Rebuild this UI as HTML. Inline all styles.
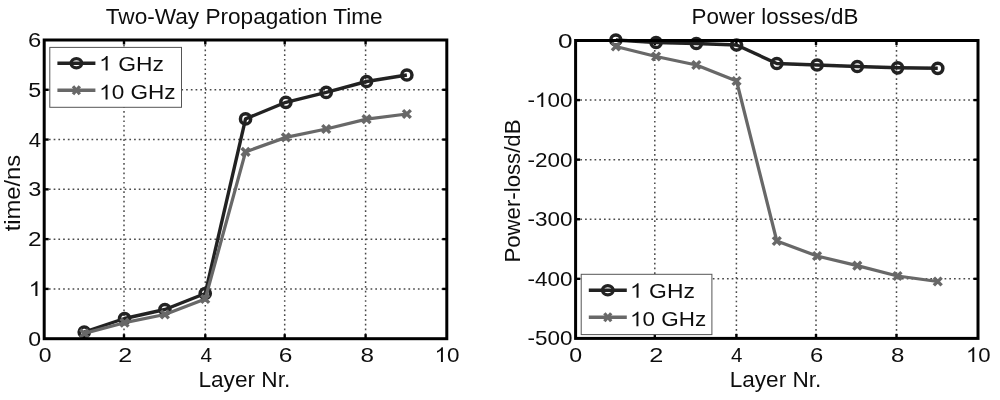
<!DOCTYPE html><html><head><meta charset="utf-8"><style>html,body{margin:0;padding:0;background:#fff}svg{display:block}text{font-family:"Liberation Sans",sans-serif;fill:#111;stroke:#111;stroke-width:0px}</style></head><body>
<svg width="1000" height="400" viewBox="0 0 1000 400">
<defs><filter id="b" x="-2%" y="-2%" width="104%" height="104%"><feGaussianBlur stdDeviation="0.6"/></filter></defs>
<rect width="1000" height="400" fill="#fff"/>
<g filter="url(#b)">
<line x1="124.00" y1="40.0" x2="124.00" y2="338.7" stroke="#4a4a4a" stroke-width="1.5" stroke-dasharray="1.7 3.03"/>
<line x1="205.30" y1="40.0" x2="205.30" y2="338.7" stroke="#4a4a4a" stroke-width="1.5" stroke-dasharray="1.7 3.03"/>
<line x1="284.70" y1="40.0" x2="284.70" y2="338.7" stroke="#4a4a4a" stroke-width="1.5" stroke-dasharray="1.7 3.03"/>
<line x1="365.60" y1="40.0" x2="365.60" y2="338.7" stroke="#4a4a4a" stroke-width="1.5" stroke-dasharray="1.7 3.03"/>
<line x1="44.2" y1="288.92" x2="446.8" y2="288.92" stroke="#4a4a4a" stroke-width="1.5" stroke-dasharray="1.7 3.03"/>
<line x1="44.2" y1="239.13" x2="446.8" y2="239.13" stroke="#4a4a4a" stroke-width="1.5" stroke-dasharray="1.7 3.03"/>
<line x1="44.2" y1="189.35" x2="446.8" y2="189.35" stroke="#4a4a4a" stroke-width="1.5" stroke-dasharray="1.7 3.03"/>
<line x1="44.2" y1="139.57" x2="446.8" y2="139.57" stroke="#4a4a4a" stroke-width="1.5" stroke-dasharray="1.7 3.03"/>
<line x1="44.2" y1="89.78" x2="446.8" y2="89.78" stroke="#4a4a4a" stroke-width="1.5" stroke-dasharray="1.7 3.03"/>
<line x1="124.00" y1="40.0" x2="124.00" y2="44.5" stroke="#000" stroke-width="2.4"/>
<line x1="124.00" y1="338.7" x2="124.00" y2="334.2" stroke="#000" stroke-width="2.4"/>
<line x1="205.30" y1="40.0" x2="205.30" y2="44.5" stroke="#000" stroke-width="2.4"/>
<line x1="205.30" y1="338.7" x2="205.30" y2="334.2" stroke="#000" stroke-width="2.4"/>
<line x1="284.70" y1="40.0" x2="284.70" y2="44.5" stroke="#000" stroke-width="2.4"/>
<line x1="284.70" y1="338.7" x2="284.70" y2="334.2" stroke="#000" stroke-width="2.4"/>
<line x1="365.60" y1="40.0" x2="365.60" y2="44.5" stroke="#000" stroke-width="2.4"/>
<line x1="365.60" y1="338.7" x2="365.60" y2="334.2" stroke="#000" stroke-width="2.4"/>
<line x1="44.2" y1="288.92" x2="48.7" y2="288.92" stroke="#000" stroke-width="2.4"/>
<line x1="446.8" y1="288.92" x2="442.3" y2="288.92" stroke="#000" stroke-width="2.4"/>
<line x1="44.2" y1="239.13" x2="48.7" y2="239.13" stroke="#000" stroke-width="2.4"/>
<line x1="446.8" y1="239.13" x2="442.3" y2="239.13" stroke="#000" stroke-width="2.4"/>
<line x1="44.2" y1="189.35" x2="48.7" y2="189.35" stroke="#000" stroke-width="2.4"/>
<line x1="446.8" y1="189.35" x2="442.3" y2="189.35" stroke="#000" stroke-width="2.4"/>
<line x1="44.2" y1="139.57" x2="48.7" y2="139.57" stroke="#000" stroke-width="2.4"/>
<line x1="446.8" y1="139.57" x2="442.3" y2="139.57" stroke="#000" stroke-width="2.4"/>
<line x1="44.2" y1="89.78" x2="48.7" y2="89.78" stroke="#000" stroke-width="2.4"/>
<line x1="446.8" y1="89.78" x2="442.3" y2="89.78" stroke="#000" stroke-width="2.4"/>
<polyline points="84.23,332.00 124.56,318.50 164.89,309.50 205.22,293.50 245.55,118.90 285.88,102.30 326.21,92.40 366.54,81.50 406.87,75.00" fill="none" stroke="#222" stroke-width="3.4" stroke-linejoin="round"/>
<circle cx="84.23" cy="332.00" r="5.1" fill="none" stroke="#222" stroke-width="3.5"/>
<circle cx="124.56" cy="318.50" r="5.1" fill="none" stroke="#222" stroke-width="3.5"/>
<circle cx="164.89" cy="309.50" r="5.1" fill="none" stroke="#222" stroke-width="3.5"/>
<circle cx="205.22" cy="293.50" r="5.1" fill="none" stroke="#222" stroke-width="3.5"/>
<circle cx="245.55" cy="118.90" r="5.1" fill="none" stroke="#222" stroke-width="3.5"/>
<circle cx="285.88" cy="102.30" r="5.1" fill="none" stroke="#222" stroke-width="3.5"/>
<circle cx="326.21" cy="92.40" r="5.1" fill="none" stroke="#222" stroke-width="3.5"/>
<circle cx="366.54" cy="81.50" r="5.1" fill="none" stroke="#222" stroke-width="3.5"/>
<circle cx="406.87" cy="75.00" r="5.1" fill="none" stroke="#222" stroke-width="3.5"/>
<polyline points="84.23,333.40 124.56,322.70 164.89,314.50 205.22,299.00 245.55,151.90 285.88,137.40 326.21,129.00 366.54,119.20 406.87,114.00" fill="none" stroke="#686868" stroke-width="3.25" stroke-linejoin="round"/>
<path d="M80.33 329.50L88.13 337.30M80.33 337.30L88.13 329.50" stroke="#686868" stroke-width="3.4" fill="none"/>
<path d="M120.66 318.80L128.46 326.60M120.66 326.60L128.46 318.80" stroke="#686868" stroke-width="3.4" fill="none"/>
<path d="M160.99 310.60L168.79 318.40M160.99 318.40L168.79 310.60" stroke="#686868" stroke-width="3.4" fill="none"/>
<path d="M201.32 295.10L209.12 302.90M201.32 302.90L209.12 295.10" stroke="#686868" stroke-width="3.4" fill="none"/>
<path d="M241.65 148.00L249.45 155.80M241.65 155.80L249.45 148.00" stroke="#686868" stroke-width="3.4" fill="none"/>
<path d="M281.98 133.50L289.78 141.30M281.98 141.30L289.78 133.50" stroke="#686868" stroke-width="3.4" fill="none"/>
<path d="M322.31 125.10L330.11 132.90M322.31 132.90L330.11 125.10" stroke="#686868" stroke-width="3.4" fill="none"/>
<path d="M362.64 115.30L370.44 123.10M362.64 123.10L370.44 115.30" stroke="#686868" stroke-width="3.4" fill="none"/>
<path d="M402.97 110.10L410.77 117.90M402.97 117.90L410.77 110.10" stroke="#686868" stroke-width="3.4" fill="none"/>
<rect x="44.2" y="40.0" width="402.6" height="298.7" fill="none" stroke="#000" stroke-width="3.0"/>
<rect x="49.8" y="47.4" width="131.7" height="59.9" fill="#fff" stroke="#555" stroke-width="1.0"/>
<line x1="57.4" y1="63.3" x2="95.4" y2="63.3" stroke="#222" stroke-width="3.4"/>
<ellipse cx="76.4" cy="63.3" rx="5.3" ry="4.6" fill="none" stroke="#222" stroke-width="3.2"/>
<line x1="57.4" y1="90.3" x2="95.4" y2="90.3" stroke="#686868" stroke-width="3.4"/>
<path d="M73.00 86.30L79.80 94.30M73.00 94.30L79.80 86.30" stroke="#686868" stroke-width="3.2" fill="none"/>
<line x1="654.80" y1="40.5" x2="654.80" y2="338.4" stroke="#4a4a4a" stroke-width="1.5" stroke-dasharray="1.7 3.03"/>
<line x1="736.40" y1="40.5" x2="736.40" y2="338.4" stroke="#4a4a4a" stroke-width="1.5" stroke-dasharray="1.7 3.03"/>
<line x1="816.00" y1="40.5" x2="816.00" y2="338.4" stroke="#4a4a4a" stroke-width="1.5" stroke-dasharray="1.7 3.03"/>
<line x1="896.50" y1="40.5" x2="896.50" y2="338.4" stroke="#4a4a4a" stroke-width="1.5" stroke-dasharray="1.7 3.03"/>
<line x1="575.6" y1="278.82" x2="978.0" y2="278.82" stroke="#4a4a4a" stroke-width="1.5" stroke-dasharray="1.7 3.03"/>
<line x1="575.6" y1="219.24" x2="978.0" y2="219.24" stroke="#4a4a4a" stroke-width="1.5" stroke-dasharray="1.7 3.03"/>
<line x1="575.6" y1="159.66" x2="978.0" y2="159.66" stroke="#4a4a4a" stroke-width="1.5" stroke-dasharray="1.7 3.03"/>
<line x1="575.6" y1="100.08" x2="978.0" y2="100.08" stroke="#4a4a4a" stroke-width="1.5" stroke-dasharray="1.7 3.03"/>
<line x1="654.80" y1="40.5" x2="654.80" y2="45.0" stroke="#000" stroke-width="2.4"/>
<line x1="654.80" y1="338.4" x2="654.80" y2="333.9" stroke="#000" stroke-width="2.4"/>
<line x1="736.40" y1="40.5" x2="736.40" y2="45.0" stroke="#000" stroke-width="2.4"/>
<line x1="736.40" y1="338.4" x2="736.40" y2="333.9" stroke="#000" stroke-width="2.4"/>
<line x1="816.00" y1="40.5" x2="816.00" y2="45.0" stroke="#000" stroke-width="2.4"/>
<line x1="816.00" y1="338.4" x2="816.00" y2="333.9" stroke="#000" stroke-width="2.4"/>
<line x1="896.50" y1="40.5" x2="896.50" y2="45.0" stroke="#000" stroke-width="2.4"/>
<line x1="896.50" y1="338.4" x2="896.50" y2="333.9" stroke="#000" stroke-width="2.4"/>
<line x1="575.6" y1="278.82" x2="580.1" y2="278.82" stroke="#000" stroke-width="2.4"/>
<line x1="978.0" y1="278.82" x2="973.5" y2="278.82" stroke="#000" stroke-width="2.4"/>
<line x1="575.6" y1="219.24" x2="580.1" y2="219.24" stroke="#000" stroke-width="2.4"/>
<line x1="978.0" y1="219.24" x2="973.5" y2="219.24" stroke="#000" stroke-width="2.4"/>
<line x1="575.6" y1="159.66" x2="580.1" y2="159.66" stroke="#000" stroke-width="2.4"/>
<line x1="978.0" y1="159.66" x2="973.5" y2="159.66" stroke="#000" stroke-width="2.4"/>
<line x1="575.6" y1="100.08" x2="580.1" y2="100.08" stroke="#000" stroke-width="2.4"/>
<line x1="978.0" y1="100.08" x2="973.5" y2="100.08" stroke="#000" stroke-width="2.4"/>
<polyline points="615.84,40.00 656.08,42.50 696.32,43.50 736.56,45.00 776.80,63.50 817.04,65.00 857.28,66.50 897.52,67.80 937.76,68.30" fill="none" stroke="#222" stroke-width="3.4" stroke-linejoin="round"/>
<circle cx="615.84" cy="40.00" r="5.1" fill="none" stroke="#222" stroke-width="3.5"/>
<circle cx="656.08" cy="42.50" r="5.1" fill="none" stroke="#222" stroke-width="3.5"/>
<circle cx="696.32" cy="43.50" r="5.1" fill="none" stroke="#222" stroke-width="3.5"/>
<circle cx="736.56" cy="45.00" r="5.1" fill="none" stroke="#222" stroke-width="3.5"/>
<circle cx="776.80" cy="63.50" r="5.1" fill="none" stroke="#222" stroke-width="3.5"/>
<circle cx="817.04" cy="65.00" r="5.1" fill="none" stroke="#222" stroke-width="3.5"/>
<circle cx="857.28" cy="66.50" r="5.1" fill="none" stroke="#222" stroke-width="3.5"/>
<circle cx="897.52" cy="67.80" r="5.1" fill="none" stroke="#222" stroke-width="3.5"/>
<circle cx="937.76" cy="68.30" r="5.1" fill="none" stroke="#222" stroke-width="3.5"/>
<polyline points="615.84,46.50 656.08,56.50 696.32,65.00 736.56,81.00 776.80,241.00 817.04,256.00 857.28,265.70 897.52,276.00 937.76,281.50" fill="none" stroke="#686868" stroke-width="3.25" stroke-linejoin="round"/>
<path d="M611.94 42.60L619.74 50.40M611.94 50.40L619.74 42.60" stroke="#686868" stroke-width="3.4" fill="none"/>
<path d="M652.18 52.60L659.98 60.40M652.18 60.40L659.98 52.60" stroke="#686868" stroke-width="3.4" fill="none"/>
<path d="M692.42 61.10L700.22 68.90M692.42 68.90L700.22 61.10" stroke="#686868" stroke-width="3.4" fill="none"/>
<path d="M732.66 77.10L740.46 84.90M732.66 84.90L740.46 77.10" stroke="#686868" stroke-width="3.4" fill="none"/>
<path d="M772.90 237.10L780.70 244.90M772.90 244.90L780.70 237.10" stroke="#686868" stroke-width="3.4" fill="none"/>
<path d="M813.14 252.10L820.94 259.90M813.14 259.90L820.94 252.10" stroke="#686868" stroke-width="3.4" fill="none"/>
<path d="M853.38 261.80L861.18 269.60M853.38 269.60L861.18 261.80" stroke="#686868" stroke-width="3.4" fill="none"/>
<path d="M893.62 272.10L901.42 279.90M893.62 279.90L901.42 272.10" stroke="#686868" stroke-width="3.4" fill="none"/>
<path d="M933.86 277.60L941.66 285.40M933.86 285.40L941.66 277.60" stroke="#686868" stroke-width="3.4" fill="none"/>
<rect x="575.6" y="40.5" width="402.4" height="297.9" fill="none" stroke="#000" stroke-width="3.0"/>
<rect x="581.2" y="274.3" width="130.7" height="60.3" fill="#fff" stroke="#555" stroke-width="1.0"/>
<line x1="588.8000000000001" y1="290.2" x2="626.8000000000001" y2="290.2" stroke="#222" stroke-width="3.4"/>
<ellipse cx="607.8000000000001" cy="290.2" rx="5.3" ry="4.6" fill="none" stroke="#222" stroke-width="3.2"/>
<line x1="588.8000000000001" y1="317.2" x2="626.8000000000001" y2="317.2" stroke="#686868" stroke-width="3.4"/>
<path d="M604.40 313.20L611.20 321.20M604.40 321.20L611.20 313.20" stroke="#686868" stroke-width="3.2" fill="none"/>
<g transform="translate(105.75,24.20) scale(1.0058,1)"><text x="0.000" y="0" font-size="22.5">Two-Way Propagation Time</text></g>
<g transform="translate(198.39,386.80) scale(1.0067,1)"><text x="0.000" y="0" font-size="22.5">Layer Nr.</text></g>
<g transform="translate(38.68,362.00) scale(1.1234,1)"><text x="0.000" y="0" font-size="20.4">0</text></g>
<g transform="translate(118.25,362.00) scale(1.2282,1)"><text x="0.000" y="0" font-size="20.4">2</text></g>
<g transform="translate(200.38,362.00) scale(1.0192,1)"><text x="0.000" y="0" font-size="20.4">4</text></g>
<g transform="translate(278.87,362.00) scale(1.2018,1)"><text x="0.000" y="0" font-size="20.4">6</text></g>
<g transform="translate(360.41,362.00) scale(1.1890,1)"><text x="0.000" y="0" font-size="20.4">8</text></g>
<g transform="translate(434.55,362.00) scale(1.1010,1)"><path transform="translate(0.000,0) scale(0.009961,-0.009961)" d="M763 0H583V1147Q518 1085 412.5 1023T223 930V1104Q373 1174.5 485.5 1275T645 1470H763V0Z" fill="#111"/><text x="11.346" y="0" font-size="20.4">0</text></g>
<g transform="translate(28.27,345.70) scale(1.1336,1)"><text x="0.000" y="0" font-size="20.4">0</text></g>
<g transform="translate(28.64,295.92) scale(1.1527,1)"><path transform="translate(0.000,0) scale(0.009961,-0.009961)" d="M763 0H583V1147Q518 1085 412.5 1023T223 930V1104Q373 1174.5 485.5 1275T645 1470H763V0Z" fill="#111"/></g>
<g transform="translate(27.98,246.13) scale(1.1959,1)"><text x="0.000" y="0" font-size="20.4">2</text></g>
<g transform="translate(28.26,196.35) scale(1.1577,1)"><text x="0.000" y="0" font-size="20.4">3</text></g>
<g transform="translate(28.76,146.57) scale(1.0775,1)"><text x="0.000" y="0" font-size="20.4">4</text></g>
<g transform="translate(28.27,96.78) scale(1.1455,1)"><text x="0.000" y="0" font-size="20.4">5</text></g>
<g transform="translate(28.01,47.00) scale(1.1701,1)"><text x="0.000" y="0" font-size="20.4">6</text></g>
<g transform="translate(99.11,70.60) scale(1.1210,1)"><path transform="translate(0.000,0) scale(0.009961,-0.009961)" d="M763 0H583V1147Q518 1085 412.5 1023T223 930V1104Q373 1174.5 485.5 1275T645 1470H763V0Z" fill="#111"/><text x="17.013" y="0" font-size="20.4">GHz</text></g>
<g transform="translate(99.14,99.40) scale(1.1060,1)"><path transform="translate(0.000,0) scale(0.009961,-0.009961)" d="M763 0H583V1147Q518 1085 412.5 1023T223 930V1104Q373 1174.5 485.5 1275T645 1470H763V0Z" fill="#111"/><text x="11.346" y="0" font-size="20.4">0 GHz</text></g>
<g transform="translate(691.61,24.20) scale(0.9958,1)"><text x="0.000" y="0" font-size="22.5">Power losses/dB</text></g>
<g transform="translate(729.69,386.60) scale(1.0044,1)"><text x="0.000" y="0" font-size="22.5">Layer Nr.</text></g>
<g transform="translate(569.28,362.00) scale(1.1336,1)"><text x="0.000" y="0" font-size="20.4">0</text></g>
<g transform="translate(649.24,362.00) scale(1.2390,1)"><text x="0.000" y="0" font-size="20.4">2</text></g>
<g transform="translate(731.09,362.00) scale(1.0095,1)"><text x="0.000" y="0" font-size="20.4">4</text></g>
<g transform="translate(809.91,362.00) scale(1.1701,1)"><text x="0.000" y="0" font-size="20.4">6</text></g>
<g transform="translate(891.02,362.00) scale(1.1786,1)"><text x="0.000" y="0" font-size="20.4">8</text></g>
<g transform="translate(965.99,362.00) scale(1.0858,1)"><path transform="translate(0.000,0) scale(0.009961,-0.009961)" d="M763 0H583V1147Q518 1085 412.5 1023T223 930V1104Q373 1174.5 485.5 1275T645 1470H763V0Z" fill="#111"/><text x="11.346" y="0" font-size="20.4">0</text></g>
<g transform="translate(527.39,345.40) scale(1.1029,1)"><text x="0.000" y="0" font-size="20.4">-500</text></g>
<g transform="translate(527.39,285.82) scale(1.1029,1)"><text x="0.000" y="0" font-size="20.4">-400</text></g>
<g transform="translate(527.39,226.24) scale(1.1029,1)"><text x="0.000" y="0" font-size="20.4">-300</text></g>
<g transform="translate(527.39,166.66) scale(1.1029,1)"><text x="0.000" y="0" font-size="20.4">-200</text></g>
<g transform="translate(527.39,107.08) scale(1.1029,1)"><text x="0.000" y="0" font-size="20.4">-</text><path transform="translate(6.793,0) scale(0.009961,-0.009961)" d="M763 0H583V1147Q518 1085 412.5 1023T223 930V1104Q373 1174.5 485.5 1275T645 1470H763V0Z" fill="#111"/><text x="18.139" y="0" font-size="20.4">00</text></g>
<g transform="translate(557.95,47.50) scale(1.2868,1)"><text x="0.000" y="0" font-size="20.4">0</text></g>
<g transform="translate(630.01,297.80) scale(1.1229,1)"><path transform="translate(0.000,0) scale(0.009961,-0.009961)" d="M763 0H583V1147Q518 1085 412.5 1023T223 930V1104Q373 1174.5 485.5 1275T645 1470H763V0Z" fill="#111"/><text x="17.013" y="0" font-size="20.4">GHz</text></g>
<g transform="translate(630.06,326.30) scale(1.0999,1)"><path transform="translate(0.000,0) scale(0.009961,-0.009961)" d="M763 0H583V1147Q518 1085 412.5 1023T223 930V1104Q373 1174.5 485.5 1275T645 1470H763V0Z" fill="#111"/><text x="11.346" y="0" font-size="20.4">0 GHz</text></g>
<g transform="translate(19.60,231.36) rotate(-90) scale(1.0541,1)"><text x="0.000" y="0" font-size="22.5">time/ns</text></g>
<g transform="translate(519.80,262.58) rotate(-90) scale(0.9867,1)"><text x="0.000" y="0" font-size="22.5">Power-loss/dB</text></g>
</g></svg></body></html>
